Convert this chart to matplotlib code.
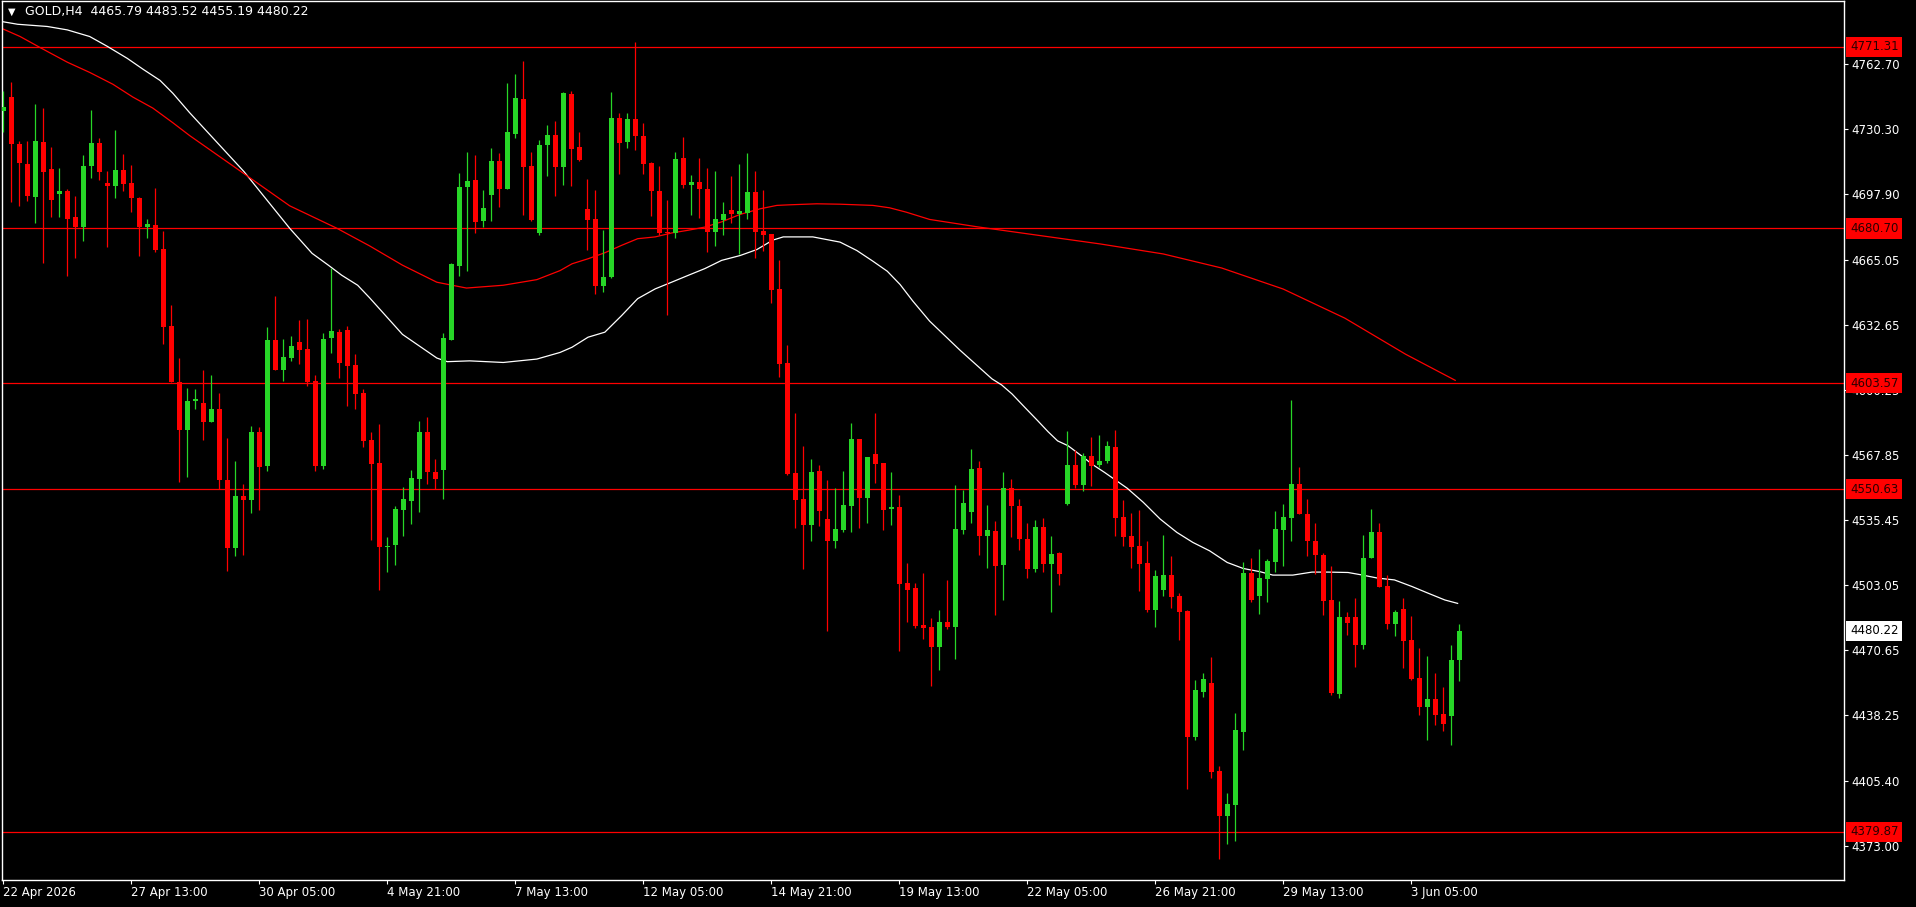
import numpy as np
import matplotlib
matplotlib.use("Agg")
import matplotlib.pyplot as plt
import matplotlib.transforms as mtransforms

# GOLD H4 candles (open, high, low, close)
opens = [4739.1, 4746.4, 4723.0, 4712.9, 4696.6, 4723.9, 4710.5, 4698.1, 4699.5, 4686.5,
         4681.6, 4711.6, 4723.3, 4703.4, 4702.1, 4709.9, 4703.4, 4696.1, 4681.6, 4682.5,
         4670.4, 4631.9, 4604.3, 4580.0, 4594.9, 4593.7, 4584.4, 4590.7, 4555.2, 4521.2,
         4547.2, 4545.2, 4579.2, 4562.2, 4625.3, 4610.2, 4616.2, 4624.3, 4620.8, 4604.7,
         4562.2, 4626.3, 4629.3, 4630.3, 4612.7, 4598.7, 4575.2, 4563.7, 4522.0, 4522.9,
         4540.5, 4545.0, 4555.9, 4579.1, 4559.1, 4560.4, 4625.2, 4662.2, 4701.2, 4705.1,
         4684.2, 4697.3, 4714.5, 4700.5, 4727.9, 4745.4, 4711.9, 4678.2, 4722.1, 4727.4,
         4711.2, 4747.5, 4721.1, 4690.6, 4685.6, 4651.8, 4656.3, 4736.0, 4723.7, 4735.5,
         4727.0, 4713.1, 4699.6, 4679.1, 4678.3, 4715.6, 4702.3, 4704.1, 4700.6, 4678.8,
         4684.8, 4689.9, 4688.1, 4688.2, 4699.1, 4679.2, 4677.7, 4650.6, 4613.4, 4558.6,
         4545.7, 4532.9, 4559.6, 4535.7, 4524.9, 4530.4, 4542.3, 4575.6, 4546.2, 4568.1,
         4563.6, 4540.8, 4541.8, 4504.0, 4501.5, 4482.9, 4482.0, 4472.1, 4484.5, 4482.0,
         4530.6, 4539.3, 4561.2, 4527.3, 4530.1, 4512.7, 4551.1, 4542.1, 4526.1, 4510.7,
         4532.1, 4513.2, 4519.1, 4543.1, 4562.7, 4552.6, 4567.2, 4562.7, 4564.7, 4571.8,
         4536.8, 4527.3, 4522.4, 4513.9, 4490.6, 4500.6, 4507.9, 4497.4, 4490.0, 4427.2,
         4449.6, 4454.0, 4410.0, 4387.7, 4393.2, 4429.7, 4508.9, 4497.6, 4506.1, 4514.6,
         4530.5, 4536.5, 4553.3, 4538.6, 4525.1, 4518.1, 4495.5, 4448.6, 4487.0, 4487.0,
         4473.1, 4516.2, 4529.6, 4502.5, 4483.7, 4491.0, 4475.5, 4456.4, 4442.1, 4446.3,
         4438.6, 4437.6, 4465.79]
highs = [4749.0, 4753.5, 4724.3, 4724.4, 4742.9, 4740.9, 4721.3, 4710.9, 4700.4, 4697.0,
         4717.5, 4739.8, 4725.9, 4709.4, 4729.9, 4717.8, 4712.3, 4696.6, 4685.4, 4701.0,
         4679.6, 4642.6, 4616.0, 4601.0, 4600.7, 4610.2, 4607.7, 4598.7, 4576.2, 4564.7,
         4553.2, 4582.4, 4581.7, 4631.8, 4646.8, 4625.8, 4627.3, 4635.3, 4635.8, 4607.7,
         4628.8, 4660.8, 4630.8, 4632.3, 4618.2, 4600.7, 4579.2, 4583.1, 4526.9, 4542.3,
         4551.7, 4560.3, 4584.7, 4586.6, 4565.7, 4628.7, 4663.7, 4708.5, 4719.0, 4717.4,
         4700.0, 4721.0, 4718.5, 4753.3, 4757.9, 4764.4, 4719.0, 4725.0, 4732.5, 4734.5,
         4748.8, 4749.2, 4729.0, 4705.6, 4700.1, 4680.1, 4748.5, 4738.5, 4738.5, 4773.5,
         4733.5, 4713.9, 4711.6, 4695.1, 4718.9, 4726.5, 4707.6, 4715.6, 4710.6, 4709.6,
         4694.1, 4707.1, 4712.6, 4718.1, 4709.6, 4700.1, 4677.7, 4664.8, 4622.7, 4588.5,
         4572.1, 4565.9, 4562.6, 4555.1, 4551.5, 4559.6, 4583.9, 4575.6, 4566.6, 4588.8,
         4563.6, 4559.1, 4547.7, 4514.0, 4504.0, 4509.0, 4486.5, 4490.5, 4505.5, 4552.6,
         4550.1, 4570.7, 4564.7, 4542.6, 4535.1, 4559.1, 4555.6, 4545.6, 4534.1, 4535.6,
         4536.6, 4527.6, 4519.6, 4579.7, 4570.2, 4568.7, 4576.7, 4577.7, 4574.7, 4580.3,
         4545.3, 4538.8, 4540.3, 4524.9, 4510.4, 4527.9, 4517.4, 4499.1, 4490.6, 4455.5,
         4459.0, 4467.1, 4412.5, 4399.1, 4439.0, 4514.4, 4516.4, 4520.9, 4515.9, 4539.8,
         4543.3, 4595.3, 4561.8, 4545.6, 4534.1, 4518.7, 4512.6, 4495.0, 4489.5, 4496.5,
         4528.1, 4541.1, 4534.1, 4508.0, 4490.5, 4496.5, 4487.5, 4471.5, 4467.5, 4459.0,
         4452.0, 4473.0, 4483.52]
lows = [4728.9, 4693.7, 4691.8, 4694.2, 4683.6, 4663.6, 4686.2, 4686.2, 4657.2, 4666.2,
        4674.3, 4706.1, 4704.7, 4671.7, 4695.7, 4699.2, 4688.7, 4666.8, 4676.1, 4669.0,
        4623.2, 4604.0, 4554.3, 4556.7, 4590.7, 4575.2, 4584.4, 4551.0, 4509.8, 4517.3,
        4517.8, 4538.7, 4540.2, 4559.9, 4610.2, 4604.7, 4614.4, 4613.2, 4602.4, 4559.9,
        4560.9, 4618.7, 4606.2, 4592.2, 4590.7, 4571.7, 4525.2, 4500.4, 4509.4, 4513.1,
        4527.2, 4533.2, 4539.4, 4553.2, 4550.8, 4545.9, 4624.9, 4656.8, 4659.7, 4678.2,
        4681.5, 4684.6, 4691.5, 4700.5, 4725.9, 4687.3, 4684.4, 4677.3, 4706.7, 4696.7,
        4702.3, 4701.7, 4714.2, 4669.8, 4647.8, 4648.8, 4655.8, 4707.7, 4720.7, 4719.7,
        4708.1, 4686.8, 4677.3, 4637.8, 4676.0, 4700.7, 4687.3, 4685.8, 4668.8, 4672.1,
        4677.3, 4683.3, 4668.0, 4685.5, 4665.9, 4669.4, 4643.5, 4606.6, 4557.6, 4531.2,
        4510.9, 4524.9, 4532.4, 4480.0, 4521.4, 4529.4, 4529.4, 4531.4, 4533.9, 4553.8,
        4530.4, 4532.9, 4470.0, 4484.3, 4481.4, 4476.0, 4452.8, 4460.8, 4481.2, 4466.1,
        4528.6, 4533.8, 4517.7, 4511.2, 4488.2, 4495.7, 4526.8, 4520.2, 4506.7, 4509.2,
        4509.2, 4489.7, 4503.2, 4542.6, 4551.1, 4549.6, 4552.1, 4561.7, 4563.7, 4527.5,
        4522.5, 4511.6, 4500.1, 4489.6, 4482.1, 4497.6, 4491.6, 4475.6, 4401.2, 4425.7,
        4447.1, 4406.7, 4366.3, 4373.8, 4375.3, 4420.7, 4494.6, 4488.6, 4494.6, 4509.6,
        4512.5, 4525.0, 4538.3, 4517.2, 4508.2, 4488.2, 4448.1, 4446.6, 4478.2, 4462.1,
        4471.1, 4516.2, 4502.2, 4481.2, 4477.6, 4461.6, 4455.6, 4438.1, 4425.5, 4433.1,
        4430.1, 4423.0, 4455.19]
closes = [4741.5, 4722.8, 4713.1, 4697.1, 4724.2, 4708.7, 4695.1, 4699.5, 4685.6, 4681.6,
          4712.0, 4723.3, 4708.7, 4702.1, 4709.9, 4703.1, 4695.7, 4681.6, 4682.7, 4670.2,
          4631.8, 4604.3, 4580.0, 4594.6, 4595.7, 4584.4, 4590.7, 4555.4, 4521.2, 4547.2,
          4545.2, 4579.2, 4561.7, 4625.3, 4610.2, 4616.7, 4622.3, 4620.3, 4604.2, 4562.2,
          4625.8, 4629.8, 4613.7, 4612.2, 4598.2, 4574.7, 4563.2, 4521.8, 4522.5, 4540.8,
          4545.7, 4556.3, 4579.1, 4559.3, 4555.9, 4626.1, 4663.1, 4701.4, 4704.5, 4683.7,
          4691.1, 4714.5, 4700.5, 4729.0, 4745.9, 4711.2, 4685.1, 4722.5, 4727.4, 4711.2,
          4748.0, 4720.2, 4714.7, 4685.1, 4651.8, 4656.7, 4736.0, 4723.1, 4735.5, 4726.7,
          4712.7, 4699.3, 4678.3, 4678.3, 4715.1, 4702.3, 4704.1, 4700.2, 4678.8, 4685.6,
          4688.1, 4688.1, 4689.6, 4699.1, 4678.7, 4677.4, 4650.0, 4613.1, 4558.1, 4545.3,
          4532.9, 4559.1, 4539.8, 4524.9, 4530.7, 4542.7, 4575.6, 4546.2, 4566.6, 4563.1,
          4540.3, 4541.8, 4503.5, 4500.5, 4482.7, 4481.4, 4472.1, 4484.5, 4482.0, 4531.1,
          4543.6, 4560.7, 4527.3, 4530.6, 4512.2, 4551.1, 4542.3, 4525.7, 4510.7, 4532.1,
          4513.2, 4518.6, 4508.2, 4562.7, 4552.6, 4567.2, 4562.2, 4564.7, 4572.2, 4536.3,
          4527.0, 4522.0, 4513.5, 4490.6, 4507.4, 4507.9, 4497.1, 4489.6, 4427.2, 4450.5,
          4456.0, 4409.7, 4387.7, 4393.6, 4430.5, 4508.9, 4495.6, 4506.4, 4514.9, 4530.9,
          4536.8, 4553.3, 4538.5, 4524.8, 4517.7, 4495.2, 4449.1, 4487.0, 4484.2, 4473.1,
          4516.6, 4529.6, 4502.2, 4483.7, 4489.5, 4475.1, 4456.1, 4442.1, 4446.3, 4438.1,
          4433.6, 4465.5, 4480.22]

# moving averages, sampled along the bar axis
ma_fast_x = [-0.4, 1.8, 5.5, 8.0, 10.8, 13.0, 15.5, 17.5, 19.6, 21.2, 23.3, 30.1, 35.8, 38.6,
             40.6, 42.3, 44.3, 45.8, 49.9, 54.2, 55.5, 58.3, 62.5, 66.7, 69.6, 71.1, 73.1,
             75.2, 77.3, 79.3, 81.5, 83.6, 85.6, 87.7, 89.8, 92.1, 94.2, 96.2, 97.5, 101.2,
             102.5, 104.6, 106.7, 108.7, 110.5, 112.1, 113.7, 115.8, 119.6, 123.6, 124.8,
             126.1, 127.7, 129.3, 130.6, 131.8, 133.1, 134.9, 136.1, 137.7, 140.5, 142.5,
             144.6, 146.7, 148.7, 150.8, 153.0, 155.0, 157.1, 158.7, 161.2, 163.6, 165.6,
             168.1, 169.8, 171.8, 173.9, 176.1, 178.1, 180.2, 181.8]
ma_fast = [4784.0, 4782.5, 4781.4, 4779.7, 4776.4, 4771.5, 4765.5, 4760.0, 4754.5, 4748.1,
           4738.4, 4709.0, 4680.8, 4668.3, 4662.5, 4657.4, 4652.4, 4646.1, 4627.9, 4616.1,
           4614.3, 4614.7, 4613.9, 4615.6, 4618.9, 4621.5, 4626.5, 4629.0, 4637.3, 4645.7,
           4650.6, 4654.0, 4657.3, 4660.7, 4664.8, 4667.2, 4670.2, 4674.9, 4676.5, 4676.5,
           4675.5, 4673.9, 4669.7, 4664.4, 4659.4, 4652.8, 4644.5, 4634.5, 4620.0, 4605.7,
           4602.7, 4598.2, 4591.5, 4584.9, 4579.4, 4574.8, 4572.4, 4567.0, 4563.2, 4559.0,
           4551.2, 4544.2, 4535.9, 4529.2, 4524.2, 4520.0, 4514.2, 4511.2, 4509.6, 4507.9,
           4507.9, 4509.4, 4509.4, 4509.2, 4508.0, 4506.4, 4505.5, 4502.2, 4498.9, 4495.5,
           4493.8]
ma_slow_x = [0.0, 2.1, 4.6, 8.0, 10.8, 13.7, 16.2, 18.7, 21.2, 23.3, 30.1, 35.8, 41.7, 45.8,
             49.9, 54.2, 57.9, 62.5, 66.7, 69.6, 71.1, 73.1, 75.2, 77.3, 79.3, 81.5, 83.6,
             85.6, 87.7, 89.8, 92.1, 94.6, 96.7, 98.3, 101.7, 104.6, 108.7, 110.8, 112.9,
             115.8, 121.8, 129.0, 137.1, 145.0, 152.3, 160.0, 167.7, 175.3, 181.5]
ma_slow = [4780.1, 4776.4, 4770.9, 4763.6, 4758.5, 4752.6, 4746.2, 4740.7, 4733.4, 4727.0,
           4708.0, 4692.0, 4680.8, 4672.0, 4662.4, 4653.9, 4651.0, 4652.4, 4655.2, 4659.7,
           4663.1, 4665.6, 4668.6, 4672.3, 4675.6, 4676.5, 4678.5, 4679.8, 4681.4, 4684.0,
           4687.7, 4690.5, 4692.2, 4692.5, 4693.0, 4692.8, 4692.2, 4691.0, 4688.8, 4685.2,
           4681.5, 4677.5, 4673.0, 4668.0, 4661.0, 4650.5, 4636.0, 4618.0, 4605.0]

levels = [4771.31, 4680.70, 4603.57, 4550.63, 4379.87]
last_price = 4480.22

yticks = [4762.70, 4730.30, 4697.90, 4665.05, 4632.65, 4600.25, 4567.85, 4535.45,
          4503.05, 4470.65, 4438.25, 4405.40, 4373.00]
date_ticks = [0, 16, 32, 48, 64, 80, 96, 112, 128, 144, 160, 176]
date_labels = ["22 Apr 2026", "27 Apr 13:00", "30 Apr 05:00", "4 May 21:00", "7 May 13:00",
               "12 May 05:00", "14 May 21:00", "19 May 13:00", "22 May 05:00",
               "26 May 21:00", "29 May 13:00", "3 Jun 05:00"]

title = "GOLD,H4  4465.79 4483.52 4455.19 4480.22"

UP = "#27d627"
DOWN = "#ff0000"

W, H = 1916, 907
fig = plt.figure(figsize=(W / 100, H / 100), dpi=100, facecolor="black")
ax = fig.add_axes([2 / W, (H - 880) / H, 1842 / W, 879 / H], facecolor="black")

x = np.arange(len(opens))
o = np.array(opens)
c = np.array(closes)
hi = np.array(highs)
lo = np.array(lows)
up = c >= o
colors = np.where(up, UP, DOWN)

# wicks then bodies
ax.vlines(x, lo, hi, colors=colors, linewidth=0.9, zorder=3)
body_low = np.minimum(o, c)
body_h = np.maximum(np.abs(c - o), 0.6)
ax.bar(x, body_h, bottom=body_low, width=0.62, color=colors, linewidth=0, zorder=4)

# moving averages
ax.plot(ma_fast_x, ma_fast, color="white", linewidth=0.9, zorder=2)
ax.plot(ma_slow_x, ma_slow, color="#ff0000", linewidth=0.9, zorder=2)

# horizontal levels
for lv in levels:
    ax.axhline(lv, color="#ff0000", linewidth=0.9, zorder=1)

ax.set_xlim(-0.16, 230.1)
ax.set_ylim(4355.9, 4794.1)

for s in ax.spines.values():
    s.set_color("white")
    s.set_linewidth(1.0)

ax.yaxis.tick_right()
ax.set_yticks(yticks)
ax.set_yticklabels([f"{v:.2f}" for v in yticks])
ax.tick_params(axis="y", colors="white", labelcolor="white", length=3, width=0.8,
               labelsize=8.5, pad=2)

ax.set_xticks(date_ticks)
ax.set_xticklabels(date_labels)
ax.tick_params(axis="x", colors="white", labelcolor="white", length=3, width=0.8,
               labelsize=8.5, pad=1.5)
for lab in ax.get_xticklabels():
    lab.set_horizontalalignment("left")

# price boxes on the right scale (they sit over the axis labels, as in the terminal)
trans = mtransforms.blended_transform_factory(ax.transAxes, ax.transData)
for lv in levels:
    ax.text(1.0 + 6 / 1842, lv, f"{lv:.2f}", transform=trans, ha="left", va="center",
            fontsize=8.5, color="#2a0000", clip_on=False, zorder=10,
            bbox=dict(boxstyle="square,pad=0.3", facecolor="#ff0000", edgecolor="none"))
ax.text(1.0 + 6 / 1842, last_price, f"{last_price:.2f}", transform=trans, ha="left",
        va="center", fontsize=8.5, color="black", clip_on=False, zorder=10,
        bbox=dict(boxstyle="square,pad=0.3", facecolor="white", edgecolor="none"))

# header
fig.text(8 / W, 1 - 12 / H, "\u25bc", color="white", fontsize=7, ha="left", va="center")
fig.text(25 / W, 1 - 12 / H, title, color="white", fontsize=9, ha="left", va="center")

fig.savefig("out.png", dpi=100, facecolor="black")
